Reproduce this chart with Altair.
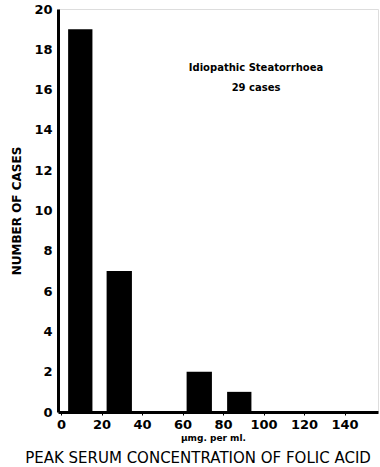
import altair as alt
import pandas as pd

# Histogram of peak serum folic acid concentration (μmg per ml)
bin_start = [3.5, 22.5, 62, 82]
bin_end = [15.5, 35, 74.5, 94]
cases = [19, 7, 2, 1]
x_ticks = [0, 20, 40, 60, 80, 100, 120, 140]
y_ticks = [0, 2, 4, 6, 8, 10, 12, 14, 16, 18, 20]
note_lines = ["Idiopathic Steatorrhoea", "29 cases"]

df = pd.DataFrame({"start": bin_start, "end": bin_end, "cases": cases})
FONT = "DejaVu Sans"

x = alt.X("start:Q",
          scale=alt.Scale(domain=[-1.5, 156.5], nice=False, zero=False),
          axis=alt.Axis(values=x_ticks, title="μmg. per ml.", grid=False,
                        domainWidth=3, domainColor="black", tickColor="black",
                        tickSize=3, labelFont=FONT, labelFontSize=13,
                        labelFontWeight="bold", labelColor="black", labelPadding=3,
                        titleFont=FONT, titleFontSize=9, titleFontWeight="bold",
                        titleColor="black", titlePadding=2, titleX=155))
y = alt.Y("cases:Q",
          scale=alt.Scale(domain=[0, 20], nice=False),
          axis=alt.Axis(values=y_ticks, title="NUMBER OF CASES", grid=False,
                        domainWidth=3, domainColor="black", tickSize=0,
                        labelFont=FONT, labelFontSize=13, labelFontWeight="bold",
                        labelColor="black", labelPadding=6,
                        titleFont=FONT, titleFontSize=12, titleFontWeight="bold",
                        titleColor="black", titlePadding=10))

bars = alt.Chart(df).mark_bar(color="black").encode(
    x=x, x2="end:Q", y=y, y2=alt.datum(0)
)

note = alt.Chart(pd.DataFrame({"t": note_lines, "i": [0, 1]})).mark_text(
    font=FONT, fontSize=10, fontWeight="bold", color="black", align="center"
).encode(
    x=alt.value(198),
    y=alt.Y("i:Q", scale=alt.Scale(domain=[0, 1], range=[59, 79]), axis=None),
    text="t:N",
)

chart = alt.layer(bars, note).resolve_scale(y="independent").properties(
    width=320, height=403,
    padding={"left": 58, "top": 9, "right": 2, "bottom": 55},
    autosize=alt.AutoSizeParams(type="none"),
    title=alt.TitleParams("PEAK SERUM CONCENTRATION OF FOLIC ACID", orient="bottom",
                          anchor="middle", font=FONT, fontSize=15,
                          fontWeight="normal", color="black", offset=9, dx=-20),
).configure_view(stroke=None).configure(background="white")

chart.save("out.html", embed_options={"renderer": "svg", "actions": False})
